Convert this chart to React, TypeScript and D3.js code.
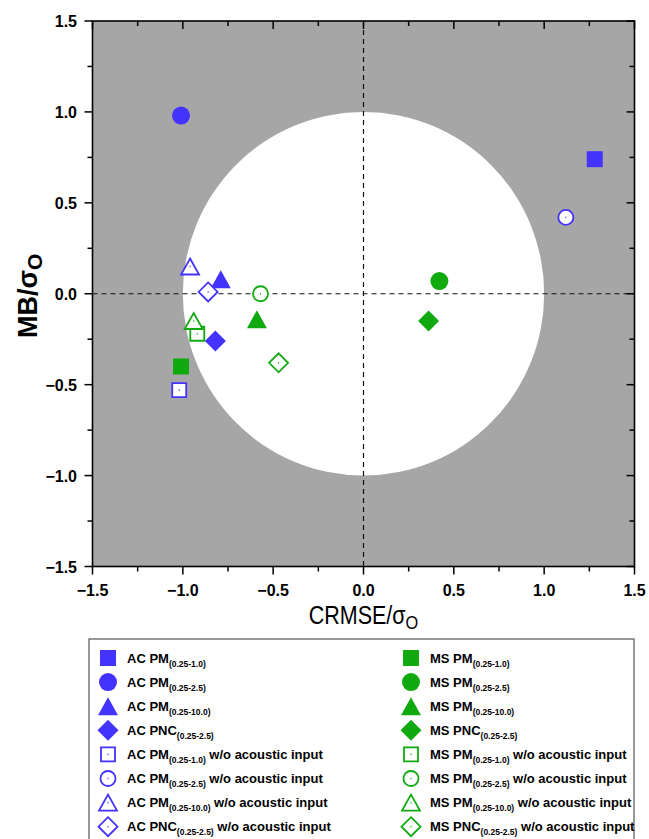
import React from "react";
import * as d3 from "d3";

// normalised target diagram: CRMSE/σo vs MB/σo
const groups = ["AC", "MS"];
const metricNames = ["PM", "PM", "PM", "PNC"];
const metricSubs = ["(0.25-1.0)", "(0.25-2.5)", "(0.25-10.0)", "(0.25-2.5)"];
const shapes = ["square", "circle", "triangle", "diamond"];

const acCrmse = [1.28, -1.01, -0.79, -0.82];
const acMb = [0.74, 0.98, 0.08, -0.26];
const acWoCrmse = [-1.02, 1.12, -0.96, -0.86];
const acWoMb = [-0.53, 0.42, 0.15, 0.01];

const msCrmse = [-1.01, 0.42, -0.59, 0.36];
const msMb = [-0.4, 0.07, -0.14, -0.15];
const msWoCrmse = [-0.92, -0.57, -0.94, -0.47];
const msWoMb = [-0.22, 0.0, -0.15, -0.38];

const tickValues = [-1.5, -1.0, -0.5, 0.0, 0.5, 1.0, 1.5];
const minorValues = [-1.25, -0.75, -0.25, 0.25, 0.75, 1.25];

const BLUE = "#4433ff";
const GREEN = "#10aa10";
const FONT = "'Liberation Sans', Arial, sans-serif";

function markerPath(shape: string, open: boolean) {
  const p = d3.path();
  if (shape === "square") {
    const h = open ? 7 : 8;
    p.rect(-h, -h, 2 * h, 2 * h);
  } else if (shape === "circle") {
    const r = open ? 7.5 : 9;
    p.arc(0, 0, r, 0, Math.PI * 2);
  } else if (shape === "triangle") {
    const w = open ? 9 : 10;
    const h = open ? 8 : 9;
    p.moveTo(0, -h);
    p.lineTo(w, h);
    p.lineTo(-w, h);
    p.closePath();
  } else {
    const d = open ? 9.5 : 10.5;
    p.moveTo(0, -d);
    p.lineTo(d, 0);
    p.lineTo(0, d);
    p.lineTo(-d, 0);
    p.closePath();
  }
  return p.toString();
}

const Marker = ({ shape, open, color, cx, cy }: any) => (
  <g transform={`translate(${cx},${cy})`}>
    <path
      d={markerPath(shape, open)}
      fill={open ? "white" : color}
      stroke={color}
      strokeWidth={open ? 1.8 : 0}
    />
    {open && <rect x={-0.5} y={-0.8} width={1} height={1.6} fill={color} />}
  </g>
);

export default function App() {
  const x = d3.scaleLinear().domain([-1.5, 1.5]).range([92.5, 634.5]);
  const y = d3.scaleLinear().domain([-1.5, 1.5]).range([566.5, 21]);
  const fmt = d3.format(".1f");

  const points = [
    { color: BLUE, open: false, xs: acCrmse, ys: acMb },
    { color: BLUE, open: true, xs: acWoCrmse, ys: acWoMb },
    { color: GREEN, open: false, xs: msCrmse, ys: msMb },
    { color: GREEN, open: true, xs: msWoCrmse, ys: msWoMb },
  ];

  const legendRows: any[] = [];
  groups.forEach((g, gi) => {
    [false, true].forEach((open, oi) => {
      metricNames.forEach((m, mi) => {
        legendRows.push({
          col: gi,
          row: oi * 4 + mi,
          label: `${g} ${m}`,
          sub: metricSubs[mi],
          suffix: open ? " w/o acoustic input" : "",
          shape: shapes[mi],
          open,
          color: gi === 0 ? BLUE : GREEN,
        });
      });
    });
  });

  const [x0, x1] = x.range();
  const [y1, y0] = y.range();

  return (
    <svg
      width={649}
      height={839}
      style={{ position: "absolute", left: 0, top: 0, background: "white" }}
      fontFamily={FONT}
    >
      <rect x={x0} y={y0} width={x1 - x0} height={y1 - y0} fill="#a6a6a6" />
      <ellipse
        cx={x(0)}
        cy={y(0)}
        rx={x(1) - x(0)}
        ry={y(0) - y(1)}
        fill="white"
      />
      <line x1={x(0)} x2={x(0)} y1={y0} y2={y1} stroke="#111" strokeWidth={1.2} strokeDasharray="5,4" />
      <line x1={x0} x2={x1} y1={y(0)} y2={y(0)} stroke="#111" strokeWidth={1.2} strokeDasharray="5,4" />

      {/* frame */}
      <rect x={x0} y={y0} width={x1 - x0} height={y1 - y0} fill="none" stroke="black" strokeWidth={1.6} />

      {/* ticks */}
      {tickValues.map((v) => (
        <g key={"t" + v}>
          <line x1={x(v)} x2={x(v)} y1={y1} y2={y1 + 8} stroke="black" strokeWidth={1.5} />
          <line x1={x(v)} x2={x(v)} y1={y0} y2={y0 + 8} stroke="black" strokeWidth={1.5} />
          <line x1={x0 - 8} x2={x0} y1={y(v)} y2={y(v)} stroke="black" strokeWidth={1.5} />
          <line x1={x1 - 8} x2={x1} y1={y(v)} y2={y(v)} stroke="black" strokeWidth={1.5} />
          <text x={x(v)} y={596} textAnchor="middle" fontSize={16} fontWeight="bold">
            {fmt(v)}
          </text>
          <text x={77} y={y(v) + 6} textAnchor="end" fontSize={16} fontWeight="bold">
            {fmt(v)}
          </text>
        </g>
      ))}
      {minorValues.map((v) => (
        <g key={"m" + v}>
          <line x1={x(v)} x2={x(v)} y1={y1} y2={y1 + 5} stroke="black" strokeWidth={1.5} />
          <line x1={x(v)} x2={x(v)} y1={y0} y2={y0 + 5} stroke="black" strokeWidth={1.5} />
          <line x1={x0 - 5} x2={x0} y1={y(v)} y2={y(v)} stroke="black" strokeWidth={1.5} />
          <line x1={x1 - 5} x2={x1} y1={y(v)} y2={y(v)} stroke="black" strokeWidth={1.5} />
        </g>
      ))}

      {/* axis titles */}
      <text
        transform={`translate(${x(0)},624) scale(0.86,1)`}
        textAnchor="middle"
        fontSize={25}
      >
        CRMSE/σ
        <tspan fontSize={19} dy={5}>O</tspan>
      </text>
      <text
        transform={`translate(37,${y(0) + 2}) rotate(-90)`}
        textAnchor="middle"
        fontSize={27}
        fontWeight="bold"
      >
        MB/σ
        <tspan fontSize={21} dy={5}>O</tspan>
      </text>

      {/* data */}
      {points.map((s, si) =>
        s.xs.map((v, i) => (
          <Marker
            key={si + "-" + i}
            shape={shapes[i]}
            open={s.open}
            color={s.color}
            cx={x(v)}
            cy={y(s.ys[i])}
          />
        ))
      )}

      {/* legend */}
      <rect x={89} y={639} width={545} height={215} fill="white" stroke="#555" strokeWidth={1.2} />
      {legendRows.map((r, i) => {
        const mx = r.col === 0 ? 108 : 411;
        const cy = 658 + r.row * 24.1;
        return (
          <g key={"l" + i}>
            <Marker shape={r.shape} open={r.open} color={r.color} cx={mx} cy={cy} />
            <text x={mx + 19} y={cy + 4.5} fontSize={13} fontWeight="bold">
              {r.label}
              <tspan fontSize={8.5} dy={4}>{r.sub}</tspan>
              {r.suffix && <tspan dy={-4}>{r.suffix}</tspan>}
            </text>
          </g>
        );
      })}
    </svg>
  );
}
